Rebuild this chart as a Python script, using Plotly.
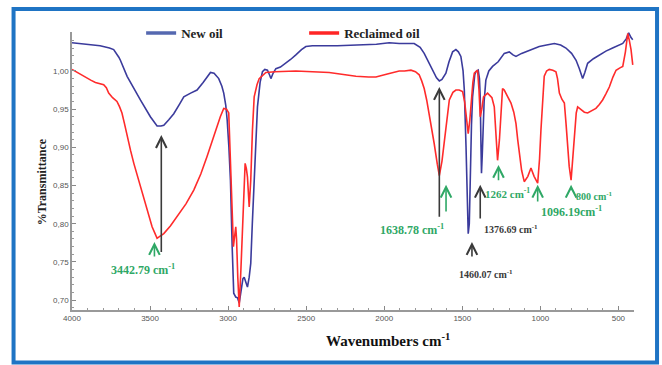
import plotly.graph_objects as go

# ---------------- data ----------------
new_wn = [4000, 3900, 3820, 3760, 3733, 3700, 3690, 3647, 3600, 3562, 3498, 3470, 3455, 3430, 3412,
          3380, 3348, 3310, 3284, 3240, 3199, 3160, 3130, 3113, 3090, 3060, 3040, 3028, 3015, 3006,
          2995, 2985, 2974, 2964, 2951, 2940, 2929, 2915, 2905, 2897, 2885, 2876, 2865, 2855, 2845,
          2833, 2822, 2812, 2795, 2780, 2765, 2748, 2735, 2726, 2712, 2694, 2665, 2630, 2600, 2566,
          2530, 2502, 2460, 2300, 2141, 2050, 1968, 1904, 1808, 1770, 1744, 1715, 1690, 1665, 1647,
          1630, 1605, 1585, 1562, 1541, 1525, 1509, 1495, 1487, 1476, 1468, 1462, 1455, 1449, 1441,
          1434, 1420, 1413, 1398, 1390, 1385, 1380, 1377, 1372, 1368, 1360, 1349, 1330, 1306, 1270,
          1231, 1199, 1175, 1156, 1120, 1092, 1050, 1007, 960, 910, 870, 836, 800, 771, 750,
          729, 715, 697, 660, 622, 580, 537, 500, 472, 450, 434, 420, 408]
new_t = [1.037, 1.035, 1.033, 1.030, 1.028, 1.018, 1.014, 0.993, 0.975, 0.962, 0.940, 0.931, 0.928, 0.928, 0.929,
         0.936, 0.944, 0.957, 0.966, 0.971, 0.975, 0.985, 0.994, 0.998, 0.997, 0.990, 0.980, 0.971, 0.955, 0.936,
         0.900, 0.857, 0.770, 0.709, 0.704, 0.703, 0.696, 0.712, 0.728, 0.730, 0.722, 0.717, 0.730, 0.748, 0.800,
         0.857, 0.920, 0.953, 0.985, 0.999, 1.002, 1.001, 0.995, 0.990, 0.997, 1.003, 1.005, 1.010, 1.015, 1.021,
         1.028, 1.032, 1.033, 1.033, 1.034, 1.035, 1.037, 1.036, 1.036, 1.031, 1.023, 1.012, 1.001, 0.991, 0.987,
         0.989, 0.997, 1.012, 1.025, 1.028, 1.025, 1.019, 1.000, 0.975, 0.901, 0.830, 0.787, 0.800, 0.879, 0.930,
         0.966, 0.995, 0.999, 1.001, 0.990, 0.966, 0.900, 0.866, 0.890, 0.923, 0.960, 0.988, 1.000, 1.006, 1.012,
         1.023, 1.025, 1.021, 1.019, 1.023, 1.025, 1.028, 1.032, 1.034, 1.036, 1.034, 1.030, 1.023, 1.014, 1.003,
         0.990, 0.998, 1.010, 1.016, 1.021, 1.026, 1.030, 1.033, 1.036, 1.042, 1.050, 1.044, 1.041]

rec_wn = [4000, 3950, 3904, 3880, 3850, 3797, 3780, 3765, 3740, 3712, 3695, 3680, 3665, 3647, 3625,
          3604, 3570, 3540, 3510, 3487, 3470, 3455, 3440, 3412, 3370, 3327, 3270, 3220, 3175, 3135,
          3100, 3071, 3050, 3028, 3010, 2996, 2983, 2974, 2966, 2951, 2946, 2938, 2929, 2918, 2908,
          2900, 2891, 2883, 2876, 2865, 2855, 2844, 2833, 2815, 2801, 2758, 2700, 2566, 2450, 2353,
          2250, 2181, 2100, 2053, 1980, 1904, 1870, 1829, 1800, 1776, 1760, 1744, 1728, 1712, 1695,
          1680, 1660, 1647, 1630, 1615, 1598, 1583, 1560, 1541, 1520, 1498, 1485, 1476, 1462, 1452,
          1444, 1432, 1423, 1410, 1402, 1393, 1385, 1375, 1364, 1338, 1310, 1295, 1285, 1274, 1262,
          1252, 1242, 1231, 1210, 1188, 1170, 1156, 1145, 1135, 1120, 1103, 1080, 1060, 1040, 1017,
          1005, 996, 985, 975, 960, 943, 920, 900, 890, 878, 862, 846, 835, 825, 815,
          803, 792, 782, 770, 761, 740, 718, 697, 670, 644, 622, 601, 580, 558, 535,
          515, 490, 472, 455, 440, 430, 419, 408]
rec_t = [1.002, 0.996, 0.990, 0.988, 0.985, 0.982, 0.978, 0.971, 0.965, 0.960, 0.953, 0.945, 0.932, 0.914, 0.896,
         0.879, 0.855, 0.831, 0.810, 0.796, 0.788, 0.781, 0.783, 0.787, 0.797, 0.809, 0.826, 0.844, 0.865, 0.888,
         0.910, 0.927, 0.940, 0.951, 0.950, 0.945, 0.870, 0.790, 0.770, 0.796, 0.780, 0.730, 0.691, 0.740, 0.792,
         0.840, 0.879, 0.872, 0.861, 0.822, 0.857, 0.923, 0.966, 0.982, 0.990, 0.998, 0.999, 1.000, 0.999, 0.998,
         0.995, 0.993, 0.992, 0.992, 0.996, 1.000, 1.000, 1.001, 0.999, 0.995, 0.987, 0.977, 0.962, 0.944, 0.925,
         0.905, 0.878, 0.863, 0.882, 0.909, 0.940, 0.962, 0.972, 0.975, 0.975, 0.973, 0.960, 0.944, 0.918, 0.935,
         0.957, 0.985, 0.997, 1.000, 1.001, 0.975, 0.940, 0.950, 0.966, 0.971, 0.965, 0.953, 0.920, 0.883, 0.910,
         0.940, 0.977, 0.975, 0.966, 0.958, 0.946, 0.931, 0.910, 0.892, 0.870, 0.855, 0.862, 0.873, 0.862, 0.853,
         0.885, 0.923, 0.965, 0.993, 1.000, 1.002, 1.001, 0.999, 0.990, 0.971, 0.963, 0.958, 0.930, 0.901, 0.875,
         0.857, 0.885, 0.923, 0.945, 0.953, 0.950, 0.946, 0.945, 0.948, 0.951, 0.956, 0.962, 0.970, 0.979, 0.992,
         1.001, 1.004, 1.006, 1.025, 1.049, 1.040, 1.028, 1.008]

series_names = ["New oil", "Reclaimed oil"]
x_ticks = [4000, 3500, 3000, 2500, 2000, 1500, 1000, 500]
y_ticks = [0.70, 0.75, 0.80, 0.85, 0.90, 0.95, 1.00]
y_tick_text = ["0,70", "0,75", "0,80", "0,85", "0,90", "0,95", "1,00"]

# peak labels: text, x (cm-1), y (T), colour key
label_text = ["3442.79 cm<sup>-1</sup>", "1638.78 cm<sup>-1</sup>", "1460.07 cm<sup>-1</sup>",
              "1376.69 cm<sup>-1</sup>", "1262 cm<sup>-1</sup>", "1096.19cm<sup>-1</sup>", "800 cm<sup>-1</sup>"]
label_x = [3545, 1820, 1346, 1186, 1212, 801, 652]
label_y = [0.740, 0.793, 0.734, 0.793, 0.840, 0.816, 0.836]
label_kind = ["g", "g", "k", "k", "g", "g", "g"]
label_size = [12, 12, 10, 10, 11, 12, 10]

# arrows: x (cm-1), tail T, head T, colour key
arrow_x = [3428, 3472, 1647, 1604, 1438, 1385, 1268, 1017, 803]
arrow_tail = [0.761, 0.755, 0.807, 0.814, 0.755, 0.805, 0.855, 0.827, 0.843]
arrow_head = [0.916, 0.776, 0.979, 0.851, 0.776, 0.851, 0.877, 0.851, 0.851]
arrow_kind = ["k", "g", "k", "g", "k", "k", "g", "g", "g"]

BLUE = "#3b3b9c"
RED = "#ff2b2b"
GREEN = "#2fa866"
DARK = "#3a3a3a"
colours = {"g": GREEN, "k": DARK}
SERIF = "Liberation Serif"

fig = go.Figure()
fig.add_trace(go.Scatter(x=new_wn, y=new_t, mode="lines", line=dict(color=BLUE, width=1.6),
                         showlegend=False, hoverinfo="skip"))
fig.add_trace(go.Scatter(x=rec_wn, y=rec_t, mode="lines", line=dict(color=RED, width=1.6),
                         showlegend=False, hoverinfo="skip"))
# legend-only traces (thicker swatches)
fig.add_trace(go.Scatter(x=[None], y=[None], mode="lines", name="<b>" + series_names[0] + "</b>",
                         line=dict(color="#5568b0", width=3.5)))
fig.add_trace(go.Scatter(x=[None], y=[None], mode="lines", name="<b>" + series_names[1] + "</b>",
                         line=dict(color="#ff2525", width=3.5)))

annotations = []
for xv, t0, t1, k in zip(arrow_x, arrow_tail, arrow_head, arrow_kind):
    annotations.append(dict(x=xv, y=t1, ax=xv, ay=t0, xref="x", yref="y", axref="x", ayref="y",
                            text="", showarrow=True, arrowhead=5, arrowsize=1.3, arrowwidth=1.6,
                            arrowcolor=colours[k]))
for txt, xv, yv, k, s in zip(label_text, label_x, label_y, label_kind, label_size):
    annotations.append(dict(x=xv, y=yv, xref="x", yref="y", text="<b>" + txt + "</b>", showarrow=False,
                            font=dict(family=SERIF, size=s, color=colours[k]),
                            xanchor="center", yanchor="middle"))
annotations.append(dict(x=0.562, y=-0.108, xref="paper", yref="paper",
                        text="<b>Wavenumbers cm<sup>-1</sup></b>", showarrow=False,
                        font=dict(family=SERIF, size=15, color="#111111"),
                        xanchor="center", yanchor="middle"))
annotations.append(dict(x=-0.053, y=0.46, xref="paper", yref="paper", textangle=-90,
                        text="<b>%Transmittance</b>", showarrow=False,
                        font=dict(family=SERIF, size=12, color="#222222"),
                        xanchor="center", yanchor="middle"))

fig.update_layout(
    width=662, height=365,
    margin=dict(l=72, r=28, t=32, b=55),
    paper_bgcolor="white", plot_bgcolor="white",
    annotations=annotations,
    legend=dict(orientation="h", x=0.123, y=0.996, xanchor="left", yanchor="middle",
                font=dict(family=SERIF, size=13, color="#222222"),
                entrywidth=118, entrywidthmode="pixels", bgcolor="rgba(0,0,0,0)",
                itemwidth=30, tracegroupgap=0),
    shapes=[dict(type="rect", xref="paper", yref="paper", x0=-0.104, x1=1.041, y0=-0.189, y1=1.083,
                 line=dict(color="#1f74c4", width=4), fillcolor="rgba(0,0,0,0)", layer="below")],
)
fig.update_xaxes(range=[4000, 400], tickvals=x_ticks, ticks="inside", ticklen=4, tickcolor="#888",
                 showline=True, linecolor="#999", linewidth=1.5, showgrid=False, zeroline=False,
                 tickfont=dict(family="Liberation Sans", size=8, color="#555"),
                 minor=dict(dtick=100, ticks="inside", ticklen=2, tickcolor="#999", showgrid=False))
fig.update_yaxes(range=[0.687, 1.051], tickvals=y_ticks, ticktext=y_tick_text, ticks="inside", ticklen=4,
                 tickcolor="#888", showline=True, linecolor="#999", linewidth=1.5, showgrid=False,
                 zeroline=False, tickfont=dict(family="Liberation Sans", size=8, color="#555"),
                 minor=dict(dtick=0.01, tick0=0.70, ticks="inside", ticklen=2, tickcolor="#999",
                            showgrid=False))

fig.write_html("out.html")
